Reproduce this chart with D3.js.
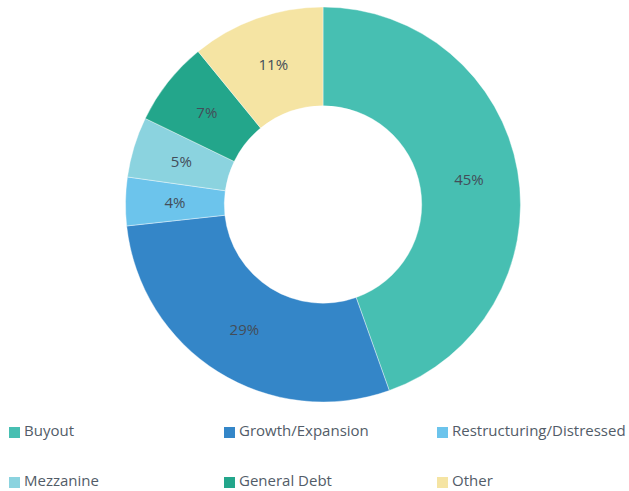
<!DOCTYPE html>
<html>
<head>
<meta charset="utf-8">
<script src="https://cdn.jsdelivr.net/npm/d3@7"></script>
<style>
  html, body { margin: 0; padding: 0; background: #fff; }
  svg { display: block; }
  text { font-family: "Open Sans", "Noto Sans", sans-serif; }
</style>
</head>
<body>
<svg id="chart" width="629" height="491"></svg>
<script>
// Share of funds by strategy (%)
const categories = ["Buyout", "Growth/Expansion", "Restructuring/Distressed", "Mezzanine", "General Debt", "Other"];
const values = [45, 29, 4, 5, 7, 11];
const colors = ["#47BFB2", "#3486C8", "#6CC4EC", "#8BD3DF", "#23A68B", "#F5E4A3"];

const svg = d3.select("#chart");

const cx = 323, cy = 204.5;
const outerR = 197.5, innerR = 98.7;

const data = categories.map((c, i) => ({ name: c, value: values[i], color: colors[i] }));

const pie = d3.pie().value(d => d.value).sort(null);
const arc = d3.arc().innerRadius(innerR).outerRadius(outerR);

const g = svg.append("g").attr("transform", `translate(${cx},${cy})`);
const arcs = pie(data);

g.selectAll("path.slice")
  .data(arcs)
  .join("path")
  .attr("class", "slice")
  .attr("d", arc)
  .attr("fill", d => d.data.color)
  .attr("stroke", "#fff")
  .attr("stroke-width", 0.4);

g.selectAll("text.pct")
  .data(arcs)
  .join("text")
  .attr("class", "pct")
  .attr("transform", d => `translate(${arc.centroid(d)})`)
  .attr("text-anchor", "middle")
  .attr("dy", "0.36em")
  .attr("font-size", 15)
  .attr("fill", "#434d59")
  .text(d => d.data.value + "%");

// Legend: three columns, two rows
const colX = [9, 224, 437];
const rowY = [427, 477];
const legend = svg.append("g");
const item = legend.selectAll("g.item")
  .data(data)
  .join("g")
  .attr("class", "item")
  .attr("transform", (d, i) => `translate(${colX[i % 3]},${rowY[Math.floor(i / 3)]})`);

item.append("rect")
  .attr("width", 11).attr("height", 11)
  .attr("fill", d => d.color);

item.append("text")
  .attr("x", 15)
  .attr("y", 9)
  .attr("font-size", 15)
  .attr("fill", "#525c68")
  .text(d => d.name);
</script>
</body>
</html>
